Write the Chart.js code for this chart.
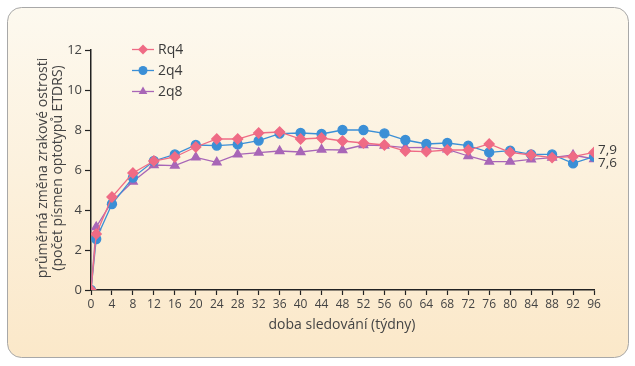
<!DOCTYPE html>
<html>
<head>
<meta charset="utf-8">
<script src="https://cdn.jsdelivr.net/npm/chart.js@4/dist/chart.umd.min.js"></script>
<style>
html,body{margin:0;padding:0;background:#ffffff;}
#wrap{width:635px;height:366px;position:relative;}
</style>
</head>
<body>
<div id="wrap"><canvas id="c" width="635" height="366"></canvas></div>
<script>
const weeks = [0,1,4,8,12,16,20,24,28,32,36,40,44,48,52,56,60,64,68,72,76,80,84,88,92,96];
const rq4 = [0,2.8,4.65,5.85,6.45,6.65,7.15,7.55,7.55,7.85,7.9,7.55,7.6,7.45,7.35,7.25,6.95,6.92,7.0,7.0,7.3,6.88,6.75,6.62,6.67,6.88];
const q2q4 = [0,2.55,4.3,5.62,6.45,6.78,7.25,7.22,7.28,7.47,7.82,7.85,7.8,8.0,8.0,7.83,7.5,7.3,7.35,7.22,6.88,6.97,6.78,6.78,6.33,6.67];
const q2q8 = [0,3.15,4.42,5.42,6.25,6.22,6.63,6.38,6.78,6.87,6.95,6.9,7.02,7.0,7.25,7.22,7.12,7.13,7.03,6.7,6.42,6.42,6.53,6.62,6.75,6.55];
const seriesNames = ["Rq4","2q4","2q8"];
const endLabels = ["7,9","7,6"];
const xTitle = "doba sledování (týdny)";
const yTitle = ["průměrná změna zrakové ostrosti","(počet písmen optotypů ETDRS)"];

const FONT = "'Open Sans',sans-serif";
const colors = ["#ef6b85","#3b8fd6","#a866b7"];
const shapes = ["rectRot","circle","triangle"];
const radii = [5,4.5,5];

function mk(i, vals){
  return {
    label: seriesNames[i],
    data: weeks.map((w,k)=>({x:w,y:vals[k]})),
    borderColor: colors[i],
    backgroundColor: colors[i],
    pointStyle: shapes[i],
    pointRadius: radii[i],
    pointHoverRadius: radii[i],
    borderWidth: 1.3,
    tension: 0
  };
}

const bgPlugin = {
  id:'bg',
  beforeDraw(chart){
    const ctx = chart.ctx;
    ctx.save();
    const x=7.5,y=7.5,w=621,h=350,r=14;
    const g = ctx.createLinearGradient(0,y,0,y+h);
    g.addColorStop(0,'#fdf9ef');
    g.addColorStop(1,'#fbe8c9');
    ctx.beginPath();
    ctx.moveTo(x+r,y);
    ctx.lineTo(x+w-r,y);
    ctx.arcTo(x+w,y,x+w,y+r,r);
    ctx.lineTo(x+w,y+h-r);
    ctx.arcTo(x+w,y+h,x+w-r,y+h,r);
    ctx.lineTo(x+r,y+h);
    ctx.arcTo(x,y+h,x,y+h-r,r);
    ctx.lineTo(x,y+r);
    ctx.arcTo(x,y,x+r,y,r);
    ctx.closePath();
    ctx.fillStyle=g;
    ctx.fill();
    ctx.strokeStyle='#a8a8a8';
    ctx.lineWidth=1;
    ctx.stroke();
    ctx.restore();
  },
  afterDraw(chart){
    const ctx = chart.ctx;
    ctx.save();
    chart.data.datasets.forEach((ds,i)=>{
      const yy = 49.5 + i*21;
      ctx.strokeStyle = ds.borderColor;
      ctx.lineWidth = 1.3;
      ctx.beginPath(); ctx.moveTo(132,yy); ctx.lineTo(154,yy); ctx.stroke();
      ctx.fillStyle = ds.borderColor;
      Chart.helpers.drawPoint(ctx,{pointStyle:ds.pointStyle,radius:ds.pointRadius,borderWidth:0},143,yy);
      ctx.fillStyle='#3a3a3a';
      ctx.font = "14px "+FONT;
      ctx.textBaseline='middle';
      ctx.textAlign='left';
      ctx.fillText(ds.label,158,yy+1);
    });
    const xs = chart.scales.x;
    ctx.fillStyle='#3a3a3a';
    ctx.font = "13.5px "+FONT;
    ctx.textAlign='left';
    ctx.textBaseline='middle';
    ctx.fillText(endLabels[0], xs.getPixelForValue(96)+4, 150);
    ctx.fillText(endLabels[1], xs.getPixelForValue(96)+4, 163);
    ctx.fillStyle='#444';
    ctx.font = "14px "+FONT;
    ctx.textAlign='center';
    ctx.fillText(xTitle, 342, 325);
    ctx.save();
    ctx.translate(43,168);
    ctx.rotate(-Math.PI/2);
    ctx.fillText(yTitle[0],0,0);
    ctx.fillText(yTitle[1],0,15);
    ctx.restore();
    ctx.restore();
  }
};

new Chart(document.getElementById('c'),{
  type:'line',
  data:{datasets:[mk(0,rq4),mk(1,q2q4),mk(2,q2q8)]},
  options:{
    responsive:false,
    animation:false,
    layout:{padding:{left:0,right:41,top:50,bottom:0}},
    plugins:{legend:{display:false},tooltip:{enabled:false}},
    scales:{
      x:{
        type:'linear',min:0,max:96,
        afterFit(s){s.height=76;},
        ticks:{stepSize:4,color:'#444',font:{family:FONT,size:12},padding:2,maxRotation:0,autoSkip:false},
        grid:{drawOnChartArea:false,drawTicks:true,tickLength:5,tickColor:'#222',tickWidth:1.2},
        border:{color:'#222',width:1.5}
      },
      y:{
        min:0,max:12,
        afterFit(s){s.width=91;},
        ticks:{stepSize:2,color:'#444',font:{family:FONT,size:13},padding:3},
        grid:{drawOnChartArea:false,drawTicks:true,tickLength:6,tickColor:'#222',tickWidth:1.2},
        border:{color:'#222',width:1.5}
      }
    }
  },
  plugins:[bgPlugin]
});
</script>
</body>
</html>
